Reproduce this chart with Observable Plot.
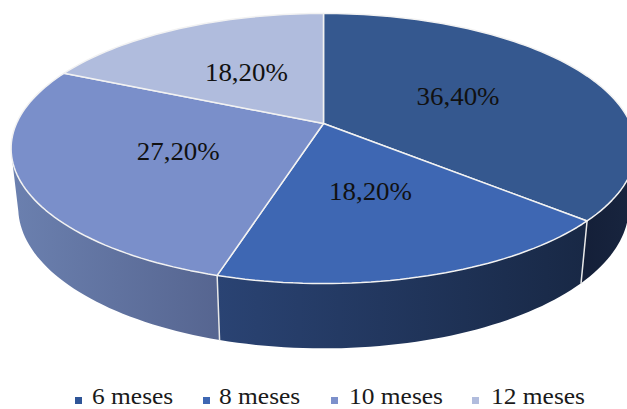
<!DOCTYPE html>
<html>
<head>
<meta charset="utf-8">
<script src="https://cdn.jsdelivr.net/npm/d3@7"></script>
<script src="https://cdn.jsdelivr.net/npm/@observablehq/plot@0.6"></script>
<style>
  html, body { margin: 0; padding: 0; background: #fff; overflow: hidden; }
  #legend { position: relative; height: 29px; font-family: "Liberation Serif", serif; font-size: 24px; color: #1a1a1a; }
  #legend .sw { position: absolute; top: 17px; width: 7px; height: 7px; }
  #legend .tx { position: absolute; top: 5.5px; line-height: 20px; white-space: nowrap; transform-origin: left center; transform: scaleX(1.06); }
</style>
</head>
<body>
<div id="chart"></div>
<div id="legend"></div>
<script>
const categories = ["6 meses", "8 meses", "10 meses", "12 meses"];
const shares = [36.4, 18.2, 27.2, 18.2];
const shareLabels = ["36,40%", "18,20%", "27,20%", "18,20%"];
const faceColors = ["#35588f", "#3e67b3", "#7a8fca", "#b0bcdd"];
const wallStops = [["#141f38", "#18253f"], ["#2a4373", "#182845"], ["#6b80af", "#566590"]];
const legendColors = ["#2f5597", "#3e67b3", "#7c90cb", "#b1bcdd"];
const legendSwatchX = [75, 203, 331, 472];
const legendTextX = [92, 219, 349, 491];

const W = 627, H = 380;
const top3d = {cx: 323, cy: 123, R: 307, S: 130.4};
const bot3d = {cx: 323, cy: 181, R: 300, S: 136};
const k = 0.185;
const rad = d => d * Math.PI / 180;
function proj(deg, r, p) {
  const X = r * Math.sin(rad(deg)), Y = r * Math.cos(rad(deg)), w = 1 + k * Y;
  return {x: p.cx + p.R * X / w, y: p.cy - p.S * Y / w};
}
function arc(a, b, p) {
  const n = Math.max(2, Math.ceil(Math.abs(b - a) / 1.5)), out = [];
  for (let i = 0; i <= n; i++) out.push(proj(a + (b - a) * i / n, 1, p));
  return out;
}
const total = d3.sum(shares);
let acc = 0;
const slices = shares.map((v, i) => {
  const a = acc / total * 360; acc += v;
  return {i, a, b: acc / total * 360, label: shareLabels[i]};
});

const wallFrom = 101, wallTo = 258;
const wallMarks = [];
slices.forEach(s => {
  const a = Math.max(s.a, wallFrom), b = Math.min(s.b, wallTo);
  if (b <= a) return;
  const pts = [...arc(a, b, top3d), ...arc(b, a, bot3d)];
  wallMarks.push(Plot.line(pts, {x: "x", y: "y", fill: `url(#wall${s.i})`, stroke: "none"}));
  if (s.a >= wallFrom && s.a <= wallTo) {
    wallMarks.push(Plot.line([proj(s.a, 1, top3d), proj(s.a, 1, bot3d)],
      {x: "x", y: "y", stroke: "#e8e8e8", strokeWidth: 1.5}));
  }
});

const faceMarks = slices.map(s => {
  const pts = [proj(0, 0, top3d), ...arc(s.a, s.b, top3d), proj(0, 0, top3d)];
  return Plot.line(pts, {x: "x", y: "y", fill: faceColors[s.i], stroke: "#f2f2f2", strokeWidth: 1.5, strokeLinejoin: "miter"});
});

const labelRows = slices.map(s => ({...proj((s.a + s.b) / 2, 0.5, top3d), label: s.label}));

const defs = () => {
  const d = d3.create("svg:defs");
  wallStops.forEach((st, i) => {
    const g = d.append("linearGradient").attr("id", `wall${i}`);
    g.append("stop").attr("offset", "0%").attr("stop-color", st[0]);
    g.append("stop").attr("offset", "100%").attr("stop-color", st[1]);
  });
  return d.node();
};

const chart = Plot.plot({
  width: W, height: H,
  margin: 0,
  x: {domain: [0, W], axis: null},
  y: {domain: [H, 0], axis: null},
  marks: [
    defs,
    ...wallMarks,
    ...faceMarks,
    Plot.text(labelRows, {x: "x", y: "y", text: "label", fontSize: 25, fontFamily: "Liberation Serif", fill: "#111"})
  ]
});
d3.select(chart).selectAll("text").filter(function () { return /%$/.test(this.textContent); })
  .attr("textLength", 83).attr("lengthAdjust", "spacingAndGlyphs");
document.getElementById("chart").append(chart);

const legend = d3.select("#legend");
categories.forEach((c, i) => {
  legend.append("div").attr("class", "sw").style("left", legendSwatchX[i] + "px").style("background", legendColors[i]);
  legend.append("div").attr("class", "tx").style("left", legendTextX[i] + "px").text(c);
});
</script>
</body>
</html>
